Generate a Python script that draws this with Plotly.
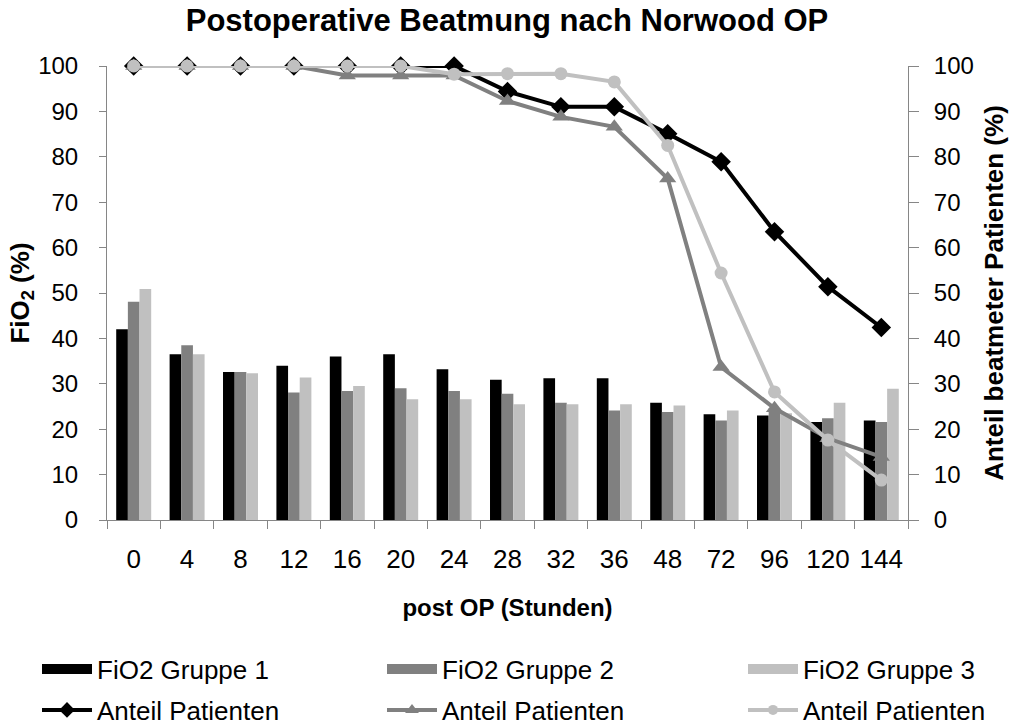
import plotly.graph_objects as go

hours = ["0", "4", "8", "12", "16", "20", "24", "28", "32", "36", "48", "72", "96", "120", "144"]

fio2_g1 = [42.0, 36.5, 32.6, 34.0, 36.0, 36.5, 33.2, 30.9, 31.2, 31.2, 25.8, 23.3, 23.0, 21.6, 21.9]
fio2_g2 = [48.1, 38.5, 32.6, 28.1, 28.4, 29.0, 28.4, 27.8, 25.8, 24.1, 23.8, 21.9, 24.6, 22.4, 21.6]
fio2_g3 = [50.9, 36.5, 32.3, 31.4, 29.5, 26.6, 26.6, 25.5, 25.5, 25.5, 25.2, 24.1, 23.5, 25.8, 28.9]

anteil_g1 = [100, 100, 100, 100, 100, 100, 100, 94.4, 91.0, 91.0, 85.1, 78.9, 63.5, 51.4, 42.4]
anteil_g2 = [100, 100, 100, 100, 97.9, 97.9, 97.9, 92.3, 88.8, 86.6, 75.2, 33.7, 24.6, 18.0, 13.9]
anteil_g3 = [100, 100, 100, 100, 100, 100, 98.2, 98.3, 98.3, 96.5, 82.5, 54.4, 28.2, 17.6, 8.8]

C1, C2, C3 = "#000000", "#808080", "#c0c0c0"
AX = "#868686"
FONT = "Liberation Sans, Arial, sans-serif"

W, H = 1014, 725
PL, PR, PT, PB = 107, 908, 66, 520   # plot area in px


def px_x(px):
    return (px - PL) / (PR - PL)


def px_y(py):
    return (PB - py) / (PB - PT)


fig = go.Figure()

bar_specs = [("FiO2 Gruppe 1", fio2_g1, C1), ("FiO2 Gruppe 2", fio2_g2, C2), ("FiO2 Gruppe 3", fio2_g3, C3)]
line_specs = [(anteil_g1, C1, "diamond", 15), (anteil_g2, C2, "triangle-up", 15), (anteil_g3, C3, "circle", 13)]

for name, vals, col in bar_specs:
    fig.add_trace(go.Bar(x=hours, y=vals, name=name, marker=dict(color=col, line=dict(width=0)),
                         showlegend=False))

for vals, col, sym, size in line_specs:
    fig.add_trace(go.Scatter(x=hours, y=vals, name="Anteil Patienten", mode="lines+markers",
                             line=dict(color=col, width=4), marker=dict(symbol=sym, size=size, color=col),
                             yaxis="y2", cliponaxis=False, showlegend=False))

# legend entries (one legend box per entry, laid out in a 3x2 grid like the original)
ITEMW = 50
LEGFONT = dict(family=FONT, size=26, color="#000")
col_px = [98 - 61, 443 - 61, 804 - 61]
row_py = [669, 710]
legend_layout = {}
k = 1
for i, (name, vals, col) in enumerate(bar_specs):
    lname = "legend" if k == 1 else f"legend{k}"
    fig.add_trace(go.Scatter(x=[None], y=[None], name=name, mode="lines",
                             line=dict(color=col, width=12), legend=lname, showlegend=True))
    legend_layout[lname] = dict(x=px_x(col_px[i]), xanchor="left", y=px_y(row_py[0]), yanchor="middle",
                                font=LEGFONT, bgcolor="rgba(0,0,0,0)", itemwidth=ITEMW)
    k += 1
for i, (vals, col, sym, size) in enumerate(line_specs):
    lname = f"legend{k}"
    fig.add_trace(go.Scatter(x=[None], y=[None], name="Anteil Patienten", mode="lines+markers",
                             line=dict(color=col, width=4), marker=dict(symbol=sym, size=size - 3, color=col),
                             legend=lname, showlegend=True))
    legend_layout[lname] = dict(x=px_x(col_px[i]), xanchor="left", y=px_y(row_py[1]), yanchor="middle",
                                font=LEGFONT, bgcolor="rgba(0,0,0,0)", itemwidth=ITEMW)
    k += 1

ytickfont = dict(family=FONT, size=24, color="#000000")
xtickfont = dict(family=FONT, size=26, color="#000000")
n = len(hours)

fig.update_layout(
    width=W, height=H,
    margin=dict(l=PL, r=W - PR, t=PT, b=H - PB, autoexpand=False),
    paper_bgcolor="white", plot_bgcolor="white",
    barmode="group", bargap=0.345, bargroupgap=0,
    title=dict(text="<b>Postoperative Beatmung nach Norwood OP</b>", x=0.5, xanchor="center",
               y=1 - 20 / H, yanchor="middle", font=dict(family=FONT, size=31, color="#000000")),
    font=dict(family=FONT),
    xaxis=dict(type="category", range=[-0.5, n - 0.5], showline=True, linecolor=AX, linewidth=1,
               ticks="outside", tickson="boundaries", ticklen=8, tickcolor=AX, tickfont=xtickfont,
               showgrid=False, automargin=False, ticklabelstandoff=16,
               title=dict(text="<b>post OP (Stunden)</b>", font=dict(family=FONT, size=24, color="#000"),
                          standoff=25)),
    xaxis2=dict(overlaying="x", anchor="y", side="bottom", range=[-0.5, n - 0.5],
                tickvals=[i - 0.5 for i in range(n + 1)], ticks="inside", ticklen=7, tickcolor=AX,
                showticklabels=False, showgrid=False, zeroline=False, showline=False, automargin=False),
    yaxis=dict(range=[0, 100], dtick=10, showline=True, linecolor=AX, linewidth=1, ticks="outside",
               ticklen=7, tickcolor=AX, tickfont=ytickfont, showgrid=False, zeroline=False,
               automargin=False, ticklabelstandoff=16,
               title=dict(text="<b>FiO<sub>2</sub> (%)</b>", font=dict(family=FONT, size=26, color="#000"),
                          standoff=1)),
    yaxis2=dict(range=[0, 100], dtick=10, overlaying="y", side="right", showline=True, linecolor=AX,
                linewidth=1, ticks="outside", ticklen=10, tickcolor=AX, tickfont=ytickfont,
                showgrid=False, zeroline=False, automargin=False, ticklabelstandoff=10,
                title=dict(text="<b>Anteil beatmeter Patienten (%)</b>",
                           font=dict(family=FONT, size=26, color="#000"), standoff=11)),
    yaxis3=dict(range=[0, 100], dtick=10, overlaying="y", side="left", anchor="x", ticks="inside",
                ticklen=10, tickcolor=AX, showticklabels=False, showgrid=False, zeroline=False,
                showline=False, automargin=False),
    yaxis4=dict(range=[0, 100], dtick=10, overlaying="y", side="right", anchor="x", ticks="inside",
                ticklen=8, tickcolor=AX, showticklabels=False, showgrid=False, zeroline=False,
                showline=False, automargin=False),
    **legend_layout,
)

fig.write_html("out.html", config={"displayModeBar": False},
               post_script="document.body.style.margin='0';")
